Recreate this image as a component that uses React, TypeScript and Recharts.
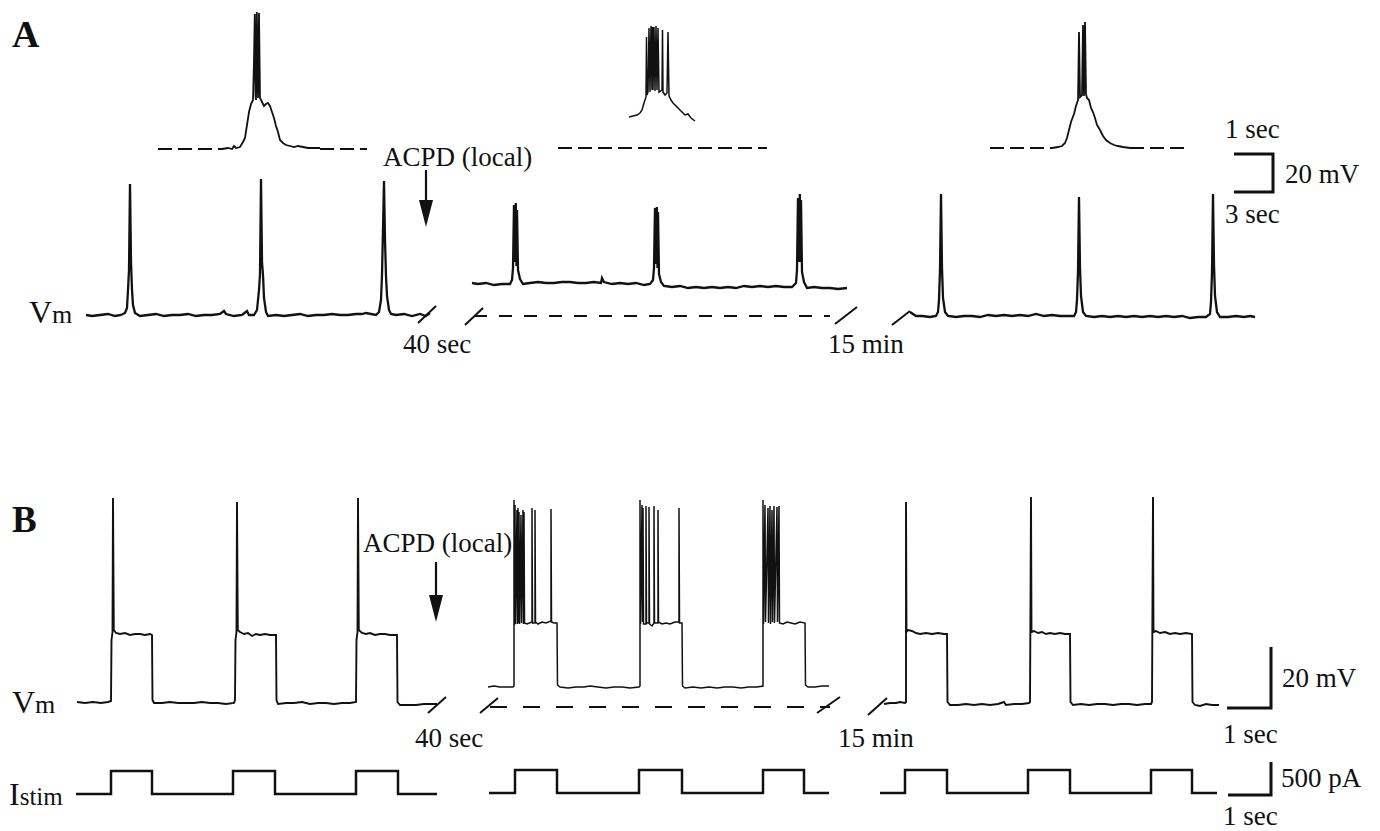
import React from 'react';
import { ComposedChart, Line, Scatter, XAxis, YAxis } from 'recharts';

type P = [number, number];

// --- Panel A, insets (expanded single events), [time px, Vm px] ---
const aInsetCtrl: P[] = [
  [222, 149], [228, 148], [232, 149], [234, 146], [236, 148], [240, 147], [243, 142], [245, 138],
  [247, 125], [249, 112], [251, 104], [253, 100], [254, 60], [254.8, 14], [255.5, 95], [256, 100],
  [256.8, 12], [257.5, 60], [258, 98], [259, 13], [260, 98], [262, 102], [264, 106], [266, 104],
  [268, 103], [270, 106], [272, 112], [274, 118], [276, 126], [278, 132], [280, 140], [283, 143],
  [286, 145], [290, 146], [294, 147], [298, 146], [303, 147], [308, 148], [314, 148], [320, 148],
];
const aInsetAcpd: P[] = [
  [629, 117], [633, 116], [637, 115], [640, 113], [642, 110], [644, 103], [646, 97], [646.5, 37],
  [647, 95], [648, 92], [649, 28], [650, 92], [651, 26], [652, 90], [652.5, 27], [653, 90],
  [654, 27], [655, 91], [656, 26], [657, 90], [658, 28], [659, 92], [662, 90], [662.5, 30],
  [663, 92], [665, 95], [667, 93], [668, 32], [669, 96], [671, 100], [673, 103], [676, 106],
  [679, 109], [682, 112], [685, 115], [688, 114], [691, 118], [695, 121],
];
const aInsetWash: P[] = [
  [1052, 148], [1058, 147], [1062, 146], [1065, 143], [1067, 138], [1069, 130], [1071, 122],
  [1074, 114], [1076, 106], [1078, 100], [1079, 32], [1080, 97], [1082, 95], [1083, 25], [1084, 96],
  [1085, 22], [1086, 94], [1087, 98], [1089, 100], [1091, 108], [1093, 112], [1095, 118], [1097, 125],
  [1100, 130], [1103, 136], [1106, 140], [1110, 143], [1114, 145], [1118, 146], [1123, 147], [1130, 148],
];
// dashed baselines around the insets
const aInsetDashes: P[][] = [
  [[158, 149], [222, 149]],
  [[320, 149], [367, 149]],
  [[558, 148], [767, 148]],
  [[990, 148], [1052, 148]],
  [[1130, 148], [1190, 148]],
];

// --- Panel A, main Vm traces ---
const aVmCtrl: P[] = [
  [86, 315], [92, 316], [100, 315], [108, 314], [115, 316], [121, 315], [125, 313], [127, 308],
  [128, 290], [129, 270], [130, 184], [131, 262], [132, 290], [133, 305], [135, 313], [140, 316],
  [148, 315], [156, 314], [164, 316], [172, 315], [180, 315], [188, 314], [196, 316], [204, 315],
  [212, 315], [220, 314], [224, 311], [226, 314], [234, 316], [242, 315], [247, 311], [249, 315],
  [254, 315], [257, 310], [259, 290], [260, 274], [261, 179], [262, 262], [263, 275], [264, 298],
  [266, 312], [268, 316], [276, 315], [284, 316], [292, 315], [300, 314], [308, 316], [316, 315],
  [324, 315], [332, 314], [340, 315], [348, 315], [356, 314], [362, 314], [366, 313], [376, 315],
  [379, 312], [381, 300], [382, 275], [383, 230], [384, 181], [385, 240], [386, 276], [387, 296],
  [389, 310], [391, 314], [396, 315], [404, 314], [412, 316], [420, 314], [426, 316], [430, 313],
];
const aVmAcpd: P[] = [
  [472, 283], [478, 284], [486, 283], [494, 285], [502, 284], [510, 284], [512, 280], [513, 268],
  [514, 205], [515, 262], [515.8, 203], [516.5, 266], [517, 210], [518, 270], [520, 279], [523, 284],
  [530, 283], [538, 282], [546, 283], [554, 283], [562, 282], [570, 282], [578, 283], [586, 283],
  [594, 282], [601, 283], [602, 278], [604, 282], [612, 284], [620, 283], [628, 284], [636, 283],
  [644, 285], [650, 284], [653, 280], [654, 268], [655, 208], [656, 264], [656.8, 207], [657.5, 268],
  [658, 212], [659, 274], [661, 282], [664, 286], [672, 287], [680, 286], [688, 288], [696, 287],
  [704, 288], [712, 287], [720, 288], [728, 287], [736, 288], [744, 286], [752, 287], [760, 286],
  [768, 287], [776, 286], [784, 287], [792, 287], [796, 283], [797, 270], [798, 198], [799, 262],
  [799.8, 194], [800.5, 262], [801, 200], [802, 272], [804, 282], [807, 288], [814, 287], [822, 288],
  [830, 288], [838, 289], [847, 288],
];
const aVmWash: P[] = [
  [910, 312], [916, 316], [922, 316], [930, 317], [936, 316], [938, 312], [939, 300], [940, 270],
  [941, 194], [942, 268], [943, 298], [945, 312], [948, 316], [956, 317], [964, 316], [972, 316],
  [980, 317], [988, 315], [996, 316], [1004, 315], [1012, 316], [1020, 315], [1028, 316], [1036, 314],
  [1044, 316], [1052, 315], [1060, 316], [1068, 316], [1074, 316], [1076, 312], [1077, 300], [1078, 272],
  [1079, 197], [1080, 268], [1081, 296], [1083, 312], [1086, 316], [1094, 317], [1102, 316], [1110, 317],
  [1118, 316], [1126, 317], [1134, 316], [1142, 317], [1150, 316], [1158, 317], [1166, 316], [1174, 317],
  [1182, 316], [1190, 318], [1198, 317], [1206, 317], [1210, 314], [1211, 302], [1212, 272], [1213, 194],
  [1214, 265], [1215, 296], [1217, 312], [1220, 317], [1228, 317], [1236, 316], [1244, 317], [1250, 316],
  [1255, 317],
];
const aGapDash: P[] = [[474, 316], [830, 316]];
const aBreaks: P[][] = [
  [[418, 323], [436, 306]],
  [[465, 325], [483, 308]],
  [[835, 324], [857, 307]],
  [[892, 325], [910, 311]],
];

// --- Panel B, Vm traces ---
const bVmCtrl: P[] = [
  [77, 702], [85, 703], [93, 702], [101, 703], [108, 702], [111, 701], [111.5, 640], [112.5, 632],
  [113, 498], [113.8, 630], [116, 633], [120, 634], [125, 633], [130, 635], [135, 634], [140, 634],
  [145, 635], [150, 634], [152, 635], [152.5, 700], [154, 703], [162, 703], [170, 702], [178, 703],
  [186, 703], [194, 703], [202, 702], [210, 703], [218, 703], [226, 704], [234, 703], [235, 700],
  [235.5, 640], [236.5, 632], [237, 502], [237.8, 630], [240, 632], [244, 634], [248, 633], [252, 636],
  [256, 634], [260, 635], [265, 634], [270, 635], [276, 635], [276.5, 700], [278, 704], [286, 703],
  [294, 703], [302, 702], [310, 704], [318, 703], [326, 703], [334, 704], [342, 703], [350, 703],
  [356, 702], [356.5, 640], [357.5, 632], [358, 498], [358.8, 630], [362, 633], [366, 634], [370, 633],
  [375, 635], [380, 634], [385, 634], [390, 635], [397, 635], [397.5, 702], [400, 705], [408, 705],
  [416, 705], [424, 704], [430, 704], [437, 704],
];
const bVmAcpd: P[] = [
  [488, 687], [494, 686], [500, 687], [506, 687], [513, 687], [514, 686], [514, 500], [514.5, 625],
  [515, 505], [515.5, 624], [517, 510], [517.5, 624], [518, 508], [518.5, 623], [519, 512], [519.5, 624],
  [521, 515], [521.5, 623], [523, 510], [523.5, 624], [524, 512], [524.5, 623], [527, 624], [532, 622],
  [532, 508], [532.5, 623], [535, 623], [535, 510], [535.5, 622], [538, 624], [542, 622], [546, 623],
  [551, 621], [551, 509], [551.5, 622], [554, 623], [557, 623], [557.5, 685], [560, 687], [568, 688],
  [576, 687], [584, 687], [590, 686], [598, 687], [606, 688], [614, 687], [622, 687], [630, 688],
  [639, 687], [640, 686], [640, 500], [640.5, 624], [642, 505], [642.5, 622], [643, 508], [643.5, 624],
  [646, 624], [646, 506], [646.5, 623], [649, 623], [649, 507], [649.5, 624], [652, 626], [654, 623],
  [654, 506], [654.5, 623], [658, 623], [658, 510], [658.5, 622], [662, 624], [666, 623], [670, 624],
  [675, 622], [679, 622], [679, 508], [679.5, 623], [682, 623], [682.5, 686], [685, 688], [693, 687],
  [701, 688], [709, 687], [717, 688], [725, 687], [733, 687], [741, 688], [749, 687], [757, 687],
  [763, 686], [763, 500], [763.5, 624], [765, 505], [765.5, 622], [768, 508], [768.5, 623], [770, 506],
  [770.5, 624], [772, 510], [772.5, 622], [774, 506], [774.5, 623], [777, 507], [777.5, 622], [779, 506],
  [779.5, 623], [783, 624], [787, 622], [791, 623], [795, 624], [800, 622], [805, 623], [805.5, 685],
  [808, 687], [815, 687], [822, 686], [829, 686],
];
const bVmWash: P[] = [
  [884, 704], [890, 703], [896, 703], [900, 702], [905, 703], [906, 702], [906, 502], [906.5, 632],
  [908, 630], [912, 631], [916, 633], [920, 634], [926, 633], [932, 634], [938, 633], [944, 634],
  [947, 634], [947.5, 702], [950, 705], [958, 705], [966, 704], [974, 705], [982, 704], [990, 705],
  [998, 704], [1004, 702], [1006, 705], [1014, 704], [1022, 704], [1029, 703], [1030, 702], [1031, 497],
  [1031.5, 632], [1034, 631], [1038, 633], [1042, 632], [1046, 634], [1050, 633], [1055, 634], [1060, 633],
  [1065, 634], [1070, 634], [1070.5, 702], [1073, 705], [1081, 704], [1089, 705], [1097, 704], [1105, 704],
  [1113, 705], [1121, 704], [1129, 704], [1137, 705], [1145, 704], [1151, 704], [1152, 702], [1153, 497],
  [1153.5, 632], [1156, 631], [1160, 633], [1165, 632], [1170, 634], [1175, 633], [1180, 634], [1186, 633],
  [1192, 634], [1192.5, 702], [1195, 705], [1200, 706], [1206, 704], [1212, 705], [1219, 705],
];
const bGapDash: P[] = [[490, 707], [830, 707]];
const bBreaks: P[][] = [
  [[428, 713], [446, 697]],
  [[480, 713], [498, 698]],
  [[817, 713], [840, 697]],
  [[868, 715], [887, 698]],
];

// --- Panel B, current steps ---
const bIstimCtrl: P[] = [
  [76, 794], [111, 794], [111, 771], [152, 771], [152, 794], [233, 794], [233, 771], [275, 771],
  [275, 794], [356, 794], [356, 771], [398, 771], [398, 794], [437, 794],
];
const bIstimAcpd: P[] = [
  [489, 793], [515, 793], [515, 770], [557, 770], [557, 793], [639, 793], [639, 770], [682, 770],
  [682, 793], [763, 793], [763, 770], [804, 770], [804, 793], [829, 793],
];
const bIstimWash: P[] = [
  [880, 793], [905, 793], [905, 770], [947, 770], [947, 793], [1028, 793], [1028, 770], [1070, 770],
  [1070, 793], [1151, 793], [1151, 770], [1192, 770], [1192, 793], [1217, 793],
];

// scale bars and ACPD arrows
const scaleBars: P[][] = [
  [[1234, 154], [1273, 154], [1273, 192], [1234, 192]],
  [[1227, 708], [1271, 708], [1271, 647]],
  [[1228, 795], [1271, 795], [1271, 762]],
];
const arrowShafts: P[][] = [
  [[426, 170], [426, 205]],
  [[436, 562], [436, 600]],
];
const arrowTips: P[] = [[426, 227], [436, 622]];

const toPts = (arr: P[]) => arr.map(([x, y]) => ({ x, y }));

const INK = '#111';
const serif = '"Liberation Serif", "Times New Roman", serif';

const trace = (key: string, arr: P[], width = 1.6, dash?: string) => (
  <Line
    key={key}
    data={toPts(arr)}
    dataKey="y"
    type="linear"
    stroke={INK}
    strokeWidth={width}
    strokeDasharray={dash}
    dot={false}
    activeDot={false}
    isAnimationActive={false}
    strokeLinejoin="miter"
  />
);

const ArrowHead = (props: any) => {
  const { cx, cy } = props;
  return <polygon points={`${cx - 7},${cy - 27} ${cx + 7},${cy - 27} ${cx},${cy}`} fill={INK} />;
};

export default function App() {
  return (
    <div style={{ position: 'absolute', left: 0, top: 0, width: 1380, height: 831, background: '#fff' }}>
      <ComposedChart width={1380} height={831} margin={{ top: 0, right: 0, bottom: 0, left: 0 }}>
        <XAxis type="number" dataKey="x" domain={[0, 1380]} hide allowDataOverflow />
        <YAxis type="number" dataKey="y" domain={[0, 831]} reversed hide allowDataOverflow />

        {aInsetDashes.map((d, i) => trace(`aid${i}`, d, 1.8, '14 6'))}
        {trace('ai1', aInsetCtrl, 1.8)}
        {trace('ai2', aInsetAcpd, 1.5)}
        {trace('ai3', aInsetWash, 1.8)}

        {trace('a1', aVmCtrl, 2.3)}
        {trace('a2', aVmAcpd, 2.3)}
        {trace('a3', aVmWash, 2.3)}
        {trace('agap', aGapDash, 1.8, '13 12')}
        {aBreaks.map((d, i) => trace(`ab${i}`, d, 2))}

        {trace('b1', bVmCtrl, 1.9)}
        {trace('b2', bVmAcpd, 1.5)}
        {trace('b3', bVmWash, 1.9)}
        {trace('bgap', bGapDash, 1.8, '17 16')}
        {bBreaks.map((d, i) => trace(`bb${i}`, d, 2))}

        {trace('i1', bIstimCtrl, 2.5)}
        {trace('i2', bIstimAcpd, 2.5)}
        {trace('i3', bIstimWash, 2.5)}

        {scaleBars.map((d, i) => trace(`sb${i}`, d, 3))}
        {arrowShafts.map((d, i) => trace(`as${i}`, d, 2.2))}
        <Scatter data={toPts(arrowTips)} dataKey="y" shape={ArrowHead} isAnimationActive={false} />
      </ComposedChart>

      <svg
        width={1380}
        height={831}
        style={{ position: 'absolute', left: 0, top: 0, pointerEvents: 'none' }}
        fontFamily={serif}
        fill={INK}
      >
        <text x={12} y={47} fontSize={38} fontWeight="bold">A</text>
        <text x={12} y={532} fontSize={37} fontWeight="bold">B</text>

        <text x={383} y={166} fontSize={27}>ACPD (local)</text>
        <text x={363} y={552} fontSize={27}>ACPD (local)</text>

        <text x={29} y={323}><tspan fontSize={32}>V</tspan><tspan fontSize={26}>m</tspan></text>
        <text x={12} y={713}><tspan fontSize={32}>V</tspan><tspan fontSize={26}>m</tspan></text>
        <text x={9} y={805}><tspan fontSize={32}>I</tspan><tspan fontSize={25}>stim</tspan></text>

        <text x={403} y={353} fontSize={27}>40 sec</text>
        <text x={828} y={353} fontSize={27}>15 min</text>
        <text x={415} y={747} fontSize={27}>40 sec</text>
        <text x={838} y={747} fontSize={27}>15 min</text>

        <text x={1225} y={138} fontSize={27}>1 sec</text>
        <text x={1285} y={183} fontSize={27}>20 mV</text>
        <text x={1225} y={223} fontSize={27}>3 sec</text>

        <text x={1282} y={687} fontSize={27}>20 mV</text>
        <text x={1223} y={743} fontSize={27}>1 sec</text>
        <text x={1281} y={787} fontSize={27}>500 pA</text>
        <text x={1223} y={825} fontSize={27}>1 sec</text>
      </svg>
    </div>
  );
}
